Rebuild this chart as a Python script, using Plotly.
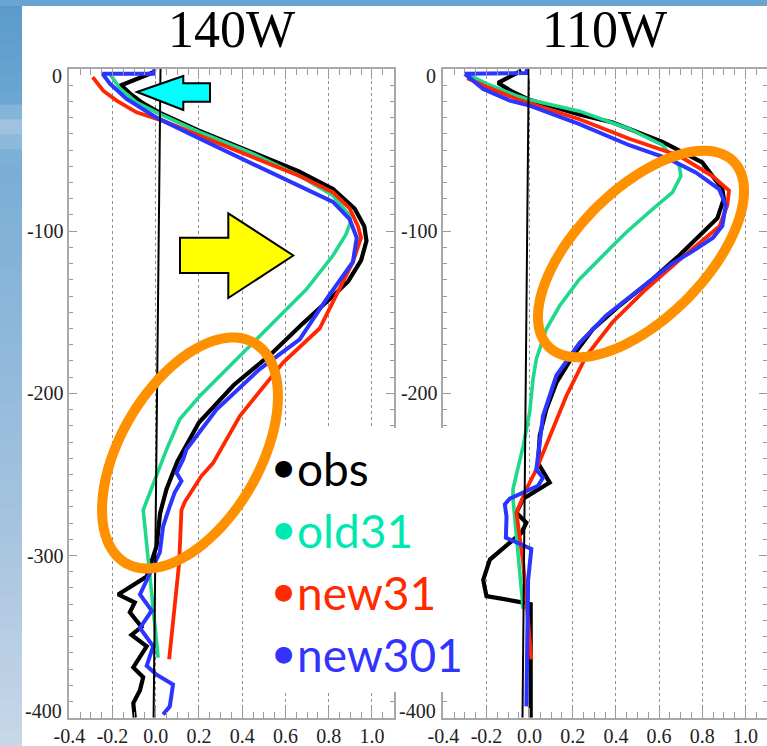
import numpy as np
import plotly.graph_objects as go

W, H = 767, 746

# ---------------- data ----------------
x_ticks = [-0.4, -0.2, 0.0, 0.2, 0.4, 0.6, 0.8, 1.0]
x_labels = ["-0.4", "-0.2", "0.0", "0.2", "0.4", "0.6", "0.8", "1.0"]
depth_ticks = [0, -100, -200, -300, -400]
depth_labels_140 = ["", "-100", "-200", "-300", ""]   # 0 and -400 drawn nudged inward, as in the original
depth_labels_110 = ["", "-100", "-200", "", ""]       # -300 hidden behind the legend box
edge_labels = ["0", "-400"]

panel_titles = ["140W", "110W"]
series_names = ["obs", "old31", "new31", "new301"]

# 140W
obs140_x = [-0.01, -0.16, -0.12, -0.06, 0.02, 0.2, 0.43, 0.66, 0.82, 0.92, 0.965, 0.975, 0.95, 0.89, 0.82, 0.68, 0.54,
            0.36, 0.2, 0.1, 0.05, 0.02, 0.004, -0.042, -0.174, -0.097, -0.12, -0.066, -0.112, -0.042, -0.104, -0.058,
            -0.073, -0.104, -0.097]
obs140_y = [-2, -10, -15, -21, -27, -38, -50.5, -63, -74, -86, -97, -106, -118, -131, -140, -157, -175,
            -195, -218, -242, -259, -274, -294, -313, -324, -329, -335, -344, -349, -356, -369, -375,
            -383, -391, -400]
old140_x = [-0.212, -0.166, -0.089, 0.019, 0.204, 0.435, 0.666, 0.82, 0.897, 0.9, 0.88, 0.82, 0.696, 0.512, 0.358,
            0.204, 0.111, 0.05, -0.058, -0.035, 0.011]
old140_y = [-3, -12, -20.6, -27.8, -39, -51.4, -66, -78, -90.5, -95, -102, -115, -136, -160.5, -181,
            -201.6, -216, -234.6, -272, -302, -363]
new140_x = [-0.292, -0.243, -0.181, -0.089, 0.034, 0.204, 0.435, 0.666, 0.82, 0.897, 0.935, 0.95, 0.912, 0.835,
            0.758, 0.589, 0.389, 0.265, 0.211, 0.134, 0.119, 0.108, 0.062]
new140_y = [-5, -13.4, -19.5, -26.7, -32, -41, -53.5, -66, -76, -86, -96.7, -104, -119, -140,
            -160, -181, -214, -243, -251, -267, -272, -305, -364]
n301_140_x = [-0.005, -0.01, -0.246, -0.212, -0.135, 0.004, 0.204, 0.435, 0.666, 0.82, 0.897, 0.93, 0.912, 0.82,
              0.789, 0.666, 0.481, 0.281, 0.142, 0.127, 0.096, 0.119, 0.088, 0.065, 0.034, 0.019, -0.027, -0.073,
              -0.019, -0.073, -0.012, -0.042, 0.004, 0.08, 0.065, 0.034]
n301_140_y = [0, -3, -3, -9, -18.5, -30, -43, -57.6, -72, -82, -92.6, -104, -119, -136,
              -142, -166.7, -185, -210, -234.6, -240.7, -249, -254, -261, -269.5, -282, -298, -311.7, -324,
              -334, -344.6, -356, -368, -373.5, -379.6, -393, -398]
zero140_x = [0.022, -0.01]
zero140_y = [0, -400]

# 110W
obs110_x = [-0.038, -0.146, -0.08, 0.0, 0.23, 0.385, 0.616, 0.8, 0.893, 0.9, 0.87, 0.817, 0.693, 0.57, 0.416, 0.293,
            0.2, 0.124, 0.077, 0.047, 0.039, 0.093, -0.03, -0.061, -0.015, -0.038, -0.107, -0.184, -0.215, -0.2,
            -0.03, 0.005, 0.005]
obs110_y = [-1, -8.6, -14, -19, -28, -33, -45, -57.6, -74, -80, -92, -98.8, -115, -129.6, -146, -160.5,
            -177, -193.4, -210, -226, -243, -255, -265, -273.6, -279.8, -286, -294, -302.5, -315, -325,
            -329, -330, -400]
old110_x = [-0.277, -0.2, -0.061, 0.0, 0.231, 0.462, 0.616, 0.693, 0.701, 0.662, 0.57, 0.447, 0.385, 0.231, 0.139,
            0.077, 0.031, 0.016, 0.0, -0.03, -0.077, -0.077, -0.03]
old110_y = [-4, -9, -16.5, -19, -26, -37, -47, -59.7, -66, -76, -86.4, -100.8, -109, -129.6, -146,
            -160.5, -179, -191, -212, -232.5, -259, -265, -333]
new110_x = [-0.289, -0.2, -0.061, 0.231, 0.462, 0.693, 0.847, 0.924, 0.916, 0.88, 0.7, 0.539, 0.385, 0.262, 0.17,
            0.093, 0.031, -0.015, -0.061, -0.03, 0.008]
new110_y = [-5.7, -11, -18.5, -31, -43, -53.5, -66, -75, -84, -97, -117, -135.8, -156, -177, -201.6,
            -226, -247, -259, -273.6, -304.5, -364]
n301_110_x = [-0.012, -0.015, -0.3, -0.215, -0.092, 0.0, 0.231, 0.462, 0.647, 0.77, 0.878, 0.909, 0.893, 0.85,
              0.76, 0.66, 0.508, 0.355, 0.231, 0.124, 0.062, 0.047, 0.031, 0.062, 0.039, -0.092, -0.115, -0.107,
              -0.11, 0.008, -0.007, -0.015]
n301_110_y = [0.5, -2.5, -3, -12.3, -19.5, -22.6, -34, -47, -55.6, -63.8, -74, -84, -96.7, -104,
              -112, -120, -136, -152, -169, -189, -214, -232, -247, -252, -257, -265, -268.5, -276,
              -289, -296, -315, -393]
zero110_x = [-0.004, -0.033]
zero110_y = [0, -400]

# ---------------- styles ----------------
col_obs = "#000000"
col_old = "#1fd98b"
col_new = "#ff2600"
col_301 = "#2b35ff"
legend_text_cols = ["#000000", "#00e8b2", "#ff2a00", "#3333ff"]
orange = "#ff9100"


def px(x):
    return x / W


def py(y):
    return 1 - y / H


fig = go.Figure()

panels = [
    dict(xa="x", ya="y", zero=(zero140_x, zero140_y),
         series=[(obs140_x, obs140_y, col_obs, 4.2), (old140_x, old140_y, col_old, 3.6),
                 (new140_x, new140_y, col_new, 3.8), (n301_140_x, n301_140_y, col_301, 4.0)]),
    dict(xa="x2", ya="y2", zero=(zero110_x, zero110_y),
         series=[(obs110_x, obs110_y, col_obs, 4.2), (old110_x, old110_y, col_old, 3.6),
                 (new110_x, new110_y, col_new, 3.8), (n301_110_x, n301_110_y, col_301, 4.0)]),
]

for p in panels:
    for (xs, ys, c, w), name in zip(p["series"], series_names):
        fig.add_trace(go.Scatter(x=xs, y=ys, mode="lines", name=name, showlegend=False,
                                 line=dict(color=c, width=w), xaxis=p["xa"], yaxis=p["ya"]))
    fig.add_trace(go.Scatter(x=p["zero"][0], y=p["zero"][1], mode="lines", showlegend=False,
                             line=dict(color="#000000", width=2), xaxis=p["xa"], yaxis=p["ya"]))

tick_font = dict(family="Liberation Serif", size=20, color="#222222")
ydom = [py(717.7), py(69)]
axis_common = dict(showline=True, linecolor="#a8a8a8", linewidth=1.5, mirror="ticks",
                   ticks="inside", tickcolor="#9a9a9a", tickwidth=1, automargin=False,
                   tickfont=tick_font, zeroline=False)

xaxis_common = dict(axis_common, range=[-0.4, 1.1], tickmode="array", tickvals=x_ticks, ticktext=x_labels,
                    ticklen=10, showgrid=True, gridcolor="#8c8c8c", griddash="dot", gridwidth=1,
                    minor=dict(tickmode="linear", tick0=-0.4, dtick=0.05, ticklen=6, ticks="inside",
                               tickcolor="#9a9a9a", showgrid=False))
yaxis_common = dict(axis_common, range=[-400, 0], tickmode="array", tickvals=depth_ticks,
                    ticklen=8, showgrid=False,
                    minor=dict(tickmode="linear", tick0=0, dtick=10, ticklen=4, ticks="inside",
                               tickcolor="#9a9a9a", showgrid=False))

fig.update_layout(
    template="none",
    width=W, height=H, margin=dict(l=0, r=0, t=0, b=0, pad=0, autoexpand=False),
    paper_bgcolor="white", plot_bgcolor="white", showlegend=False,
    xaxis=dict(xaxis_common, domain=[px(69.3), px(393.5)], anchor="y"),
    yaxis=dict(yaxis_common, domain=ydom, anchor="x", ticktext=depth_labels_140),
    xaxis2=dict(xaxis_common, domain=[px(443.3), 1.0], anchor="y2"),
    yaxis2=dict(yaxis_common, domain=ydom, anchor="x2", ticktext=depth_labels_110),
)

shapes = []
# sky background (vertical gradient on the left strip, band at top)
stops_y = [0, 100, 125, 160, 300, 500, 746]
stops_c = [(90, 153, 202), (109, 167, 211), (160, 196, 224), (122, 174, 214), (138, 182, 218), (163, 194, 222),
           (200, 216, 233)]
nseg = 50
for i in range(nseg):
    y0, y1 = H * i / nseg, H * (i + 1) / nseg
    ym = (y0 + y1) / 2
    rgb = [int(np.interp(ym, stops_y, [c[k] for c in stops_c])) for k in range(3)]
    shapes.append(dict(type="rect", xref="paper", yref="paper", x0=0, x1=px(22),
                       y0=py(min(H, y1 + 1.5)), y1=py(y0),
                       fillcolor="rgb(%d,%d,%d)" % tuple(rgb), line=dict(width=0), layer="below"))
shapes.append(dict(type="rect", xref="paper", yref="paper", x0=0, x1=1, y0=py(6), y1=1,
                   fillcolor="#69a5d2", line=dict(width=0), layer="below"))

# white box behind the legend text
shapes.append(dict(type="rect", xref="paper", yref="paper", x0=px(270), x1=px(460), y0=py(692), y1=py(428),
                   fillcolor="white", line=dict(width=0), layer="above"))


def poly_path(pts):
    return "M " + " L ".join(f"{px(a):.5f},{py(b):.5f}" for a, b in pts) + " Z"


def ellipse_path(cx, cy, a, b, theta_deg, n=90):
    th = np.deg2rad(theta_deg)
    t = np.linspace(0, 2 * np.pi, n, endpoint=False)
    xs = cx + a * np.cos(th) * np.cos(t) - b * np.sin(th) * np.sin(t)
    ys = cy + a * np.sin(th) * np.cos(t) + b * np.cos(th) * np.sin(t)
    return poly_path(list(zip(xs, ys)))


# cyan arrow (pointing left)
cyan_pts = [(137, 92), (183.3, 76), (183.3, 83.3), (210, 83.3), (210, 101.7), (183.3, 101.7), (183.3, 110)]
shapes.append(dict(type="path", xref="paper", yref="paper", path=poly_path(cyan_pts),
                   fillcolor="#00ffff", line=dict(color="black", width=2), layer="above"))
# yellow arrow (pointing right)
yellow_pts = [(180, 237.7), (228.3, 237.7), (228.3, 213.3), (293.3, 255.5), (228.3, 298), (228.3, 273), (180, 273)]
shapes.append(dict(type="path", xref="paper", yref="paper", path=poly_path(yellow_pts),
                   fillcolor="#ffff00", line=dict(color="black", width=2), layer="above"))
# orange ellipses
shapes.append(dict(type="path", xref="paper", yref="paper", path=ellipse_path(190, 453, 127.5, 69.5, -59.7),
                   line=dict(color=orange, width=10), fillcolor="rgba(0,0,0,0)", layer="above"))
shapes.append(dict(type="path", xref="paper", yref="paper", path=ellipse_path(641, 254, 130.9, 64.4, -45.1),
                   line=dict(color=orange, width=10), fillcolor="rgba(0,0,0,0)", layer="above"))

annotations = []
for title, cx in zip(panel_titles, [231.5, 604.5]):
    annotations.append(dict(text=title, xref="paper", yref="paper", x=px(cx), y=py(29.5), xanchor="center",
                            yanchor="middle", showarrow=False,
                            font=dict(family="Liberation Serif", size=52, color="black")))

# end-of-axis depth labels, nudged inward
for xr in [63.5, 437.5]:
    for lab, yc in zip(edge_labels, [76, 711]):
        annotations.append(dict(text=lab, xref="paper", yref="paper", x=px(xr), y=py(yc), xanchor="right",
                                yanchor="middle", showarrow=False, font=tick_font))

fsize = 46
for i, (name, c) in enumerate(zip(series_names, legend_text_cols)):
    base = 483 + 62 * i
    annotations.append(dict(text="\u25cf", xref="paper", yref="paper", x=px(283.5), y=py(base - 15.5),
                            xanchor="center", yanchor="middle", showarrow=False,
                            font=dict(family="DejaVu Sans", size=22, color=c)))
    annotations.append(dict(text=name, xref="paper", yref="paper", x=px(295), y=py(base - 0.32 * fsize),
                            xanchor="left", yanchor="middle", showarrow=False,
                            font=dict(family="Lato", size=fsize, color=c)))

fig.update_layout(shapes=shapes, annotations=annotations)
fig.write_html("out.html", config={"displayModeBar": False},
               post_script="document.body.style.margin='0';document.body.style.padding='0';"
                           "document.documentElement.style.overflow='hidden';")
